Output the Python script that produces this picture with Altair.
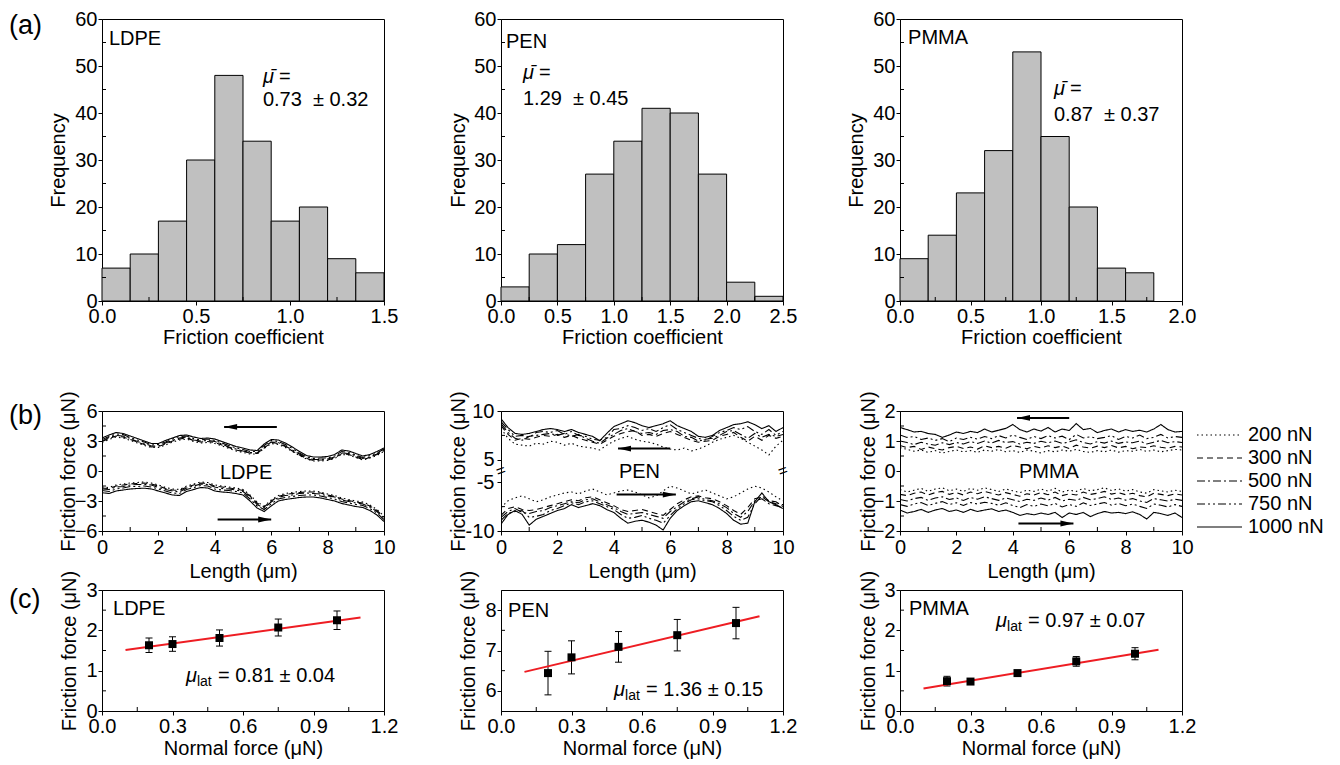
import altair as alt
import pandas as pd

FONT = "Liberation Sans"
FS = 20
W = 282
HA, HB, HC = 282, 120, 121
LOADS = ["200 nN", "300 nN", "500 nN", "750 nN", "1000 nN"]
DASHES = [[1.5, 3], [6, 4], [8, 3, 2, 3], [8, 3, 2, 3, 2, 3], [1, 0]]

# ---------------- (a) histograms ----------------
ldpe_edges = [0.0, 0.15, 0.30, 0.45, 0.60, 0.75, 0.90, 1.05, 1.20, 1.35, 1.50]
ldpe_counts = [7, 10, 17, 30, 48, 34, 17, 20, 9, 6]
pen_edges = [0.0, 0.25, 0.50, 0.75, 1.00, 1.25, 1.50, 1.75, 2.00, 2.25, 2.50]
pen_counts = [3, 10, 12, 27, 34, 41, 40, 27, 4, 1]
pmma_edges = [0.0, 0.2, 0.4, 0.6, 0.8, 1.0, 1.2, 1.4, 1.6, 1.8]
pmma_counts = [9, 14, 23, 32, 53, 35, 20, 7, 6]

# ---------------- (b) friction loops ----------------
XB = [0, 0.25, 0.5, 0.75, 1.0, 1.25, 1.5, 1.75, 2.0, 2.25, 2.5, 2.75, 3.0, 3.25,
      3.5, 3.75, 4.0, 4.25, 4.5, 4.75, 5.0, 5.25, 5.5, 5.75, 6.0, 6.25, 6.5, 6.75,
      7.0, 7.25, 7.5, 7.75, 8.0, 8.25, 8.5, 8.75, 9.0, 9.25, 9.5, 9.75, 10.0]

ldpe_up = {
    "1000 nN": [3.30, 3.60, 3.85, 3.75, 3.50, 3.25, 3.00, 2.75, 2.75, 3.05, 3.30, 3.55, 3.60, 3.40, 3.25, 3.30, 3.20, 2.95, 2.70, 2.45, 2.30, 2.10, 2.05, 2.70, 3.15, 3.10, 2.80, 2.40, 1.95, 1.55, 1.40, 1.40, 1.45, 1.65, 2.10, 2.00, 1.75, 1.50, 1.65, 1.95, 2.30],
    "750 nN": [3.15, 3.45, 3.70, 3.65, 3.35, 3.10, 2.90, 2.60, 2.65, 2.90, 3.20, 3.45, 3.50, 3.25, 3.10, 3.20, 3.05, 2.80, 2.55, 2.30, 2.15, 1.95, 1.95, 2.55, 3.05, 2.95, 2.65, 2.25, 1.80, 1.40, 1.25, 1.30, 1.30, 1.50, 1.95, 1.85, 1.60, 1.35, 1.55, 1.80, 2.20],
    "500 nN": [3.00, 3.35, 3.55, 3.50, 3.25, 2.95, 2.75, 2.50, 2.50, 2.80, 3.05, 3.30, 3.40, 3.10, 3.00, 3.05, 2.95, 2.70, 2.40, 2.20, 2.00, 1.85, 1.80, 2.40, 2.90, 2.85, 2.50, 2.10, 1.70, 1.30, 1.15, 1.15, 1.20, 1.40, 1.80, 1.75, 1.50, 1.25, 1.40, 1.70, 2.05],
    "300 nN": [2.95, 3.25, 3.50, 3.40, 3.15, 2.90, 2.65, 2.40, 2.45, 2.70, 3.00, 3.20, 3.30, 3.05, 2.90, 2.95, 2.85, 2.60, 2.35, 2.10, 1.95, 1.80, 1.75, 2.30, 2.85, 2.75, 2.45, 2.00, 1.60, 1.25, 1.05, 1.10, 1.10, 1.30, 1.75, 1.65, 1.40, 1.15, 1.35, 1.65, 2.00],
    "200 nN": [2.85, 3.15, 3.40, 3.30, 3.05, 2.80, 2.55, 2.35, 2.35, 2.60, 2.90, 3.10, 3.20, 2.95, 2.80, 2.85, 2.75, 2.50, 2.25, 2.00, 1.85, 1.70, 1.70, 2.25, 2.75, 2.65, 2.35, 1.95, 1.55, 1.20, 1.00, 1.00, 1.05, 1.25, 1.65, 1.60, 1.35, 1.10, 1.30, 1.55, 1.95],
}
ldpe_dn = {
    "1000 nN": [-2.17, -2.25, -2.00, -1.90, -1.80, -1.75, -1.72, -1.80, -2.00, -2.20, -2.40, -2.45, -2.05, -1.85, -1.65, -1.70, -2.00, -2.10, -2.15, -2.25, -2.40, -3.00, -3.70, -4.05, -3.50, -3.00, -2.85, -2.75, -2.65, -2.60, -2.60, -2.70, -2.85, -3.00, -3.25, -3.40, -3.55, -3.65, -3.95, -4.40, -5.05],
    "750 nN": [-1.95, -2.05, -1.80, -1.70, -1.55, -1.55, -1.50, -1.60, -1.80, -2.00, -2.20, -2.25, -1.85, -1.65, -1.45, -1.50, -1.80, -1.90, -1.95, -2.05, -2.20, -2.80, -3.50, -3.85, -3.30, -2.80, -2.65, -2.55, -2.45, -2.40, -2.40, -2.50, -2.65, -2.80, -3.05, -3.20, -3.35, -3.45, -3.75, -4.20, -4.85],
    "500 nN": [-1.80, -1.85, -1.60, -1.55, -1.40, -1.35, -1.35, -1.40, -1.65, -1.85, -2.00, -2.10, -1.70, -1.50, -1.30, -1.35, -1.60, -1.75, -1.80, -1.90, -2.05, -2.60, -3.35, -3.70, -3.10, -2.65, -2.45, -2.40, -2.25, -2.20, -2.25, -2.30, -2.50, -2.60, -2.90, -3.05, -3.20, -3.30, -3.60, -4.05, -4.70],
    "300 nN": [-1.70, -1.75, -1.50, -1.40, -1.30, -1.25, -1.20, -1.30, -1.50, -1.75, -1.90, -1.95, -1.60, -1.40, -1.20, -1.25, -1.50, -1.60, -1.70, -1.80, -1.95, -2.50, -3.20, -3.60, -3.00, -2.55, -2.35, -2.25, -2.15, -2.10, -2.10, -2.20, -2.40, -2.55, -2.80, -2.95, -3.10, -3.20, -3.50, -3.95, -4.60],
    "200 nN": [-1.60, -1.65, -1.40, -1.30, -1.20, -1.15, -1.10, -1.20, -1.40, -1.65, -1.80, -1.85, -1.50, -1.30, -1.10, -1.15, -1.40, -1.50, -1.60, -1.70, -1.85, -2.40, -3.10, -3.50, -2.90, -2.45, -2.25, -2.15, -2.05, -2.00, -2.00, -2.10, -2.30, -2.45, -2.70, -2.85, -3.00, -3.10, -3.40, -3.85, -4.50],
}
pen_up = {
    "1000 nN": [9.20, 8.30, 7.70, 7.60, 7.70, 7.90, 8.10, 8.20, 8.10, 7.90, 8.10, 7.80, 7.60, 7.40, 6.95, 7.70, 8.40, 8.70, 9.00, 8.80, 8.50, 8.30, 8.50, 8.70, 9.00, 8.50, 8.20, 7.90, 7.40, 7.30, 7.50, 8.00, 8.30, 8.60, 8.70, 8.90, 8.60, 8.20, 8.50, 7.90, 8.30],
    "750 nN": [8.90, 8.10, 7.40, 7.50, 7.30, 7.80, 7.90, 7.80, 8.00, 7.60, 7.90, 7.50, 7.40, 7.10, 7.00, 7.30, 8.10, 8.20, 8.50, 8.30, 8.00, 8.20, 7.90, 8.30, 8.60, 8.10, 7.80, 7.50, 7.20, 7.00, 7.40, 7.80, 8.00, 8.30, 8.10, 8.40, 7.90, 7.60, 8.10, 7.50, 7.90],
    "500 nN": [8.70, 7.80, 7.20, 7.00, 7.40, 7.50, 7.60, 7.70, 7.50, 7.70, 7.40, 7.60, 7.20, 6.90, 6.70, 7.20, 7.60, 8.00, 8.20, 7.90, 7.70, 7.80, 7.60, 8.00, 8.10, 7.90, 7.40, 7.30, 6.90, 7.10, 7.20, 7.50, 7.90, 8.00, 7.60, 7.20, 7.70, 7.30, 7.60, 7.40, 7.60],
    "300 nN": [8.50, 7.60, 7.00, 7.20, 7.10, 7.30, 7.50, 7.40, 7.60, 7.30, 7.50, 7.20, 7.00, 6.80, 6.60, 7.00, 7.40, 7.70, 7.90, 8.00, 7.50, 7.60, 7.40, 7.70, 7.90, 7.60, 7.30, 7.00, 6.80, 6.90, 7.00, 7.40, 7.60, 7.80, 7.30, 6.90, 7.40, 7.00, 7.50, 7.20, 7.40],
    "200 nN": [8.20, 7.20, 6.60, 6.50, 6.40, 6.70, 6.60, 6.90, 6.80, 6.50, 6.70, 6.40, 6.30, 6.20, 6.00, 6.50, 6.90, 7.20, 7.40, 7.10, 6.90, 6.80, 6.60, 6.30, 6.10, 6.00, 6.20, 5.90, 6.10, 6.40, 6.80, 7.10, 7.30, 7.50, 7.20, 6.80, 6.40, 6.00, 5.50, 6.40, 7.00],
}
pen_dn = {
    "1000 nN": [-9.30, -8.30, -7.90, -8.30, -9.40, -8.80, -8.50, -8.20, -7.90, -7.70, -7.30, -7.60, -7.40, -7.20, -7.40, -7.80, -8.10, -8.70, -9.20, -9.00, -8.90, -9.10, -9.40, -9.90, -8.70, -7.90, -7.40, -7.00, -6.90, -7.10, -7.30, -7.70, -8.20, -8.90, -9.30, -9.20, -7.00, -6.10, -7.00, -7.30, -7.70],
    "750 nN": [-8.90, -8.20, -8.00, -7.90, -8.60, -8.50, -8.30, -7.90, -7.70, -7.40, -7.10, -7.30, -7.00, -6.90, -7.20, -7.50, -7.80, -8.30, -8.70, -8.60, -8.40, -8.70, -8.90, -9.20, -8.40, -7.70, -7.20, -6.80, -6.70, -6.90, -7.00, -7.40, -7.90, -8.50, -8.90, -8.60, -7.20, -6.40, -6.90, -7.00, -7.50],
    "500 nN": [-8.60, -8.00, -7.70, -8.10, -8.20, -8.00, -7.90, -7.60, -7.40, -7.20, -7.00, -7.10, -6.80, -6.70, -7.00, -7.30, -7.60, -8.00, -8.30, -8.20, -8.10, -8.30, -8.50, -8.70, -8.00, -7.50, -7.00, -6.70, -6.50, -6.80, -6.90, -7.20, -7.60, -8.20, -8.60, -8.00, -6.90, -6.70, -7.20, -7.40, -7.60],
    "300 nN": [-8.40, -7.70, -7.50, -7.80, -7.90, -7.80, -7.60, -7.40, -7.20, -7.00, -6.80, -6.90, -6.60, -6.50, -6.80, -7.10, -7.40, -7.80, -8.00, -7.90, -7.80, -8.00, -8.20, -8.40, -7.80, -7.20, -6.80, -6.50, -6.40, -6.60, -6.70, -7.00, -7.40, -7.90, -8.30, -7.60, -6.70, -6.50, -7.00, -7.20, -7.30],
    "200 nN": [-7.60, -6.90, -6.60, -6.40, -6.70, -7.00, -6.80, -6.50, -6.30, -6.10, -6.00, -6.20, -5.90, -5.70, -6.00, -6.30, -6.10, -5.90, -5.80, -6.00, -6.30, -6.60, -6.40, -5.90, -5.40, -5.60, -5.90, -6.20, -6.00, -5.80, -6.10, -6.40, -6.70, -6.50, -6.10, -5.70, -5.40, -5.60, -6.00, -6.50, -6.90],
}
pmma_up = {
    "1000 nN": [1.45, 1.38, 1.30, 1.32, 1.25, 1.22, 1.12, 1.20, 1.30, 1.25, 1.32, 1.28, 1.40, 1.30, 1.36, 1.42, 1.55, 1.38, 1.30, 1.40, 1.33, 1.45, 1.30, 1.40, 1.35, 1.58, 1.38, 1.42, 1.28, 1.35, 1.40, 1.30, 1.38, 1.32, 1.36, 1.30, 1.40, 1.55, 1.38, 1.30, 1.32],
    "750 nN": [1.20, 1.12, 1.15, 1.05, 1.10, 1.02, 1.08, 0.98, 1.10, 1.05, 1.12, 1.06, 1.15, 1.08, 1.18, 1.10, 1.20, 1.12, 1.05, 1.15, 1.08, 1.18, 1.10, 1.16, 1.05, 1.22, 1.10, 1.14, 1.08, 1.12, 1.18, 1.05, 1.15, 1.10, 1.20, 1.08, 1.12, 1.22, 1.10, 1.15, 1.12],
    "500 nN": [1.00, 0.95, 0.88, 0.96, 0.90, 0.86, 0.94, 0.88, 0.95, 0.90, 0.98, 0.92, 1.00, 0.93, 1.02, 0.95, 0.98, 0.90, 0.96, 0.92, 0.99, 0.94, 1.00, 0.92, 0.97, 1.04, 0.95, 0.90, 0.98, 0.93, 1.00, 0.92, 0.97, 0.94, 1.00, 0.90, 0.96, 1.02, 0.94, 0.98, 0.95],
    "300 nN": [0.85, 0.78, 0.82, 0.72, 0.80, 0.74, 0.70, 0.78, 0.82, 0.75, 0.80, 0.73, 0.84, 0.78, 0.82, 0.76, 0.85, 0.80, 0.74, 0.82, 0.77, 0.84, 0.78, 0.83, 0.75, 0.86, 0.80, 0.76, 0.83, 0.78, 0.85, 0.77, 0.82, 0.74, 0.80, 0.78, 0.84, 0.79, 0.76, 0.82, 0.80],
    "200 nN": [0.78, 0.72, 0.66, 0.70, 0.62, 0.68, 0.60, 0.65, 0.70, 0.64, 0.68, 0.62, 0.70, 0.66, 0.72, 0.64, 0.68, 0.62, 0.70, 0.66, 0.60, 0.68, 0.64, 0.70, 0.66, 0.72, 0.65, 0.62, 0.68, 0.64, 0.70, 0.63, 0.68, 0.66, 0.72, 0.65, 0.70, 0.64, 0.68, 0.72, 0.70],
}
pmma_dn = {
    "1000 nN": [-1.30, -1.40, -1.35, -1.28, -1.38, -1.30, -1.25, -1.35, -1.30, -1.38, -1.28, -1.35, -1.30, -1.26, -1.35, -1.30, -1.38, -1.48, -1.42, -1.46, -1.40, -1.45, -1.38, -1.55, -1.40, -1.45, -1.38, -1.52, -1.42, -1.35, -1.40, -1.38, -1.42, -1.36, -1.45, -1.60, -1.38, -1.42, -1.48, -1.40, -1.55],
    "750 nN": [-1.12, -1.18, -1.10, -1.05, -1.15, -1.08, -1.02, -1.12, -1.06, -1.15, -1.05, -1.10, -1.04, -1.08, -1.14, -1.06, -1.15, -1.22, -1.12, -1.18, -1.10, -1.16, -1.08, -1.20, -1.12, -1.18, -1.06, -1.15, -1.10, -1.05, -1.14, -1.08, -1.16, -1.10, -1.18, -1.25, -1.10, -1.14, -1.20, -1.12, -1.18],
    "500 nN": [-0.95, -1.00, -0.92, -0.88, -0.98, -0.90, -0.86, -0.95, -0.90, -0.98, -0.88, -0.94, -0.86, -0.92, -0.98, -0.90, -0.96, -1.02, -0.94, -0.98, -0.90, -0.97, -0.88, -1.00, -0.94, -0.98, -0.88, -0.96, -0.92, -0.86, -0.95, -0.90, -0.97, -0.92, -1.00, -1.05, -0.92, -0.96, -1.00, -0.94, -0.98],
    "300 nN": [-0.78, -0.82, -0.74, -0.70, -0.80, -0.72, -0.68, -0.78, -0.72, -0.80, -0.70, -0.76, -0.68, -0.74, -0.80, -0.72, -0.78, -0.84, -0.76, -0.80, -0.72, -0.79, -0.70, -0.82, -0.76, -0.80, -0.70, -0.78, -0.74, -0.68, -0.77, -0.72, -0.79, -0.74, -0.82, -0.86, -0.74, -0.78, -0.82, -0.76, -0.80],
    "200 nN": [-0.62, -0.70, -0.64, -0.58, -0.68, -0.60, -0.56, -0.66, -0.60, -0.68, -0.58, -0.64, -0.56, -0.62, -0.68, -0.60, -0.66, -0.72, -0.64, -0.68, -0.60, -0.67, -0.58, -0.70, -0.64, -0.68, -0.58, -0.66, -0.62, -0.56, -0.65, -0.60, -0.67, -0.62, -0.70, -0.74, -0.62, -0.66, -0.70, -0.64, -0.68],
}

# ---------------- (c) friction vs normal force ----------------
NF = [0.2, 0.3, 0.5, 0.75, 1.0]
ldpe_ff = [1.63, 1.66, 1.81, 2.07, 2.25]
ldpe_err = [0.18, 0.18, 0.20, 0.21, 0.23]
pen_ff = [6.44, 6.83, 7.09, 7.38, 7.68]
pen_err = [0.54, 0.41, 0.38, 0.39, 0.39]
pmma_ff = [0.74, 0.73, 0.94, 1.23, 1.42]
pmma_err = [0.12, 0.07, 0.05, 0.12, 0.15]
FIT_X = [0.1, 1.1]
ldpe_fit = [1.51, 2.32]
pen_fit = [6.47, 7.85]
pmma_fit = [0.56, 1.52]

for d in (ldpe_up, ldpe_dn, pen_up, pen_dn, pmma_up, pmma_dn):
    for k, v in d.items():
        assert len(v) == len(XB), k


def sc(dom):
    return alt.Scale(domain=dom, nice=False, zero=False)


def xaxis(title, values, fmt, lp, tp):
    return alt.Axis(title=title, values=values, format=fmt, tickSize=4, labelPadding=lp,
                    minExtent=20, maxExtent=20, titlePadding=tp, labelFlush=False, grid=False)


def yaxis(title, values, d, fmt="d", lp=1, labelExpr=None):
    kw = dict(title=title, values=values, format=fmt, tickSize=4, labelPadding=lp,
              minExtent=10, maxExtent=10, titlePadding=d - 10, grid=False)
    if labelExpr:
        kw["labelExpr"] = labelExpr
    return alt.Axis(**kw)


class P:
    """Scales and axes of one panel, shared by all of its layers."""

    def __init__(self, xdom, ydom, xa, ya):
        self.xdom, self.ydom = xdom, ydom
        self.xs, self.ys = sc(xdom), sc(ydom)
        self.xa, self.ya = xa, ya

    def X(self, f):
        return alt.X(f, scale=self.xs, axis=self.xa)

    def Y(self, f):
        return alt.Y(f, scale=self.ys, axis=self.ya)


def minor_ticks(p, xminor, yminor):
    out = []
    out.append(alt.Chart(pd.DataFrame({"v": xminor})).mark_rule(color="black", strokeWidth=1, y2Offset=-4).encode(
        x=p.X("v:Q"),
        y=alt.YDatum(p.ydom[0], type="quantitative", scale=p.ys, axis=p.ya),
        y2=alt.Y2Datum(p.ydom[0])))
    out.append(alt.Chart(pd.DataFrame({"v": yminor})).mark_rule(color="black", strokeWidth=1, x2Offset=4).encode(
        y=p.Y("v:Q"),
        x=alt.XDatum(p.xdom[0], type="quantitative", scale=p.xs, axis=p.xa),
        x2=alt.X2Datum(p.xdom[0])))
    return out


def text_layer(p, rows, **mk):
    df = pd.DataFrame(rows, columns=["x", "y", "t"])
    base = dict(align="left", baseline="middle", fontSize=FS, color="black")
    base.update(mk)
    return alt.Chart(df).mark_text(**base).encode(x=p.X("x:Q"), y=p.Y("y:Q"), text="t:N")


def panel_label(t, y):
    return alt.Chart(pd.DataFrame({"t": [t]})).mark_text(
        fontSize=27, align="left", baseline="middle", color="black").encode(
        x=alt.value(-93), y=alt.value(y), text="t:N")


MU_BAR = "\u03bc\u0304"


def panel_a(edges, counts, xdom, xvals, xminor, d, name_xy, mu_xy, val_xy, name, val, lab=None):
    p = P(xdom, [0, 60], xaxis("Friction coefficient", xvals, ".1f", 1, 6),
          yaxis("Frequency", [0, 10, 20, 30, 40, 50, 60], d))
    df = pd.DataFrame({"x0": edges[:-1], "x1": edges[1:], "n": counts})
    bars = alt.Chart(df).mark_bar(fill="#c0c0c0", stroke="black", strokeWidth=1).encode(
        x=p.X("x0:Q"), x2="x1:Q", y=p.Y("n:Q"), y2=alt.Y2Datum(0))
    layers = [bars] + minor_ticks(p, xminor, [5, 15, 25, 35, 45, 55])
    layers.append(text_layer(p, [(name_xy[0], name_xy[1], name)]))
    layers.append(text_layer(p, [(mu_xy[0], mu_xy[1], MU_BAR)], fontStyle="italic"))
    layers.append(text_layer(p, [(mu_xy[0], mu_xy[1], "=")], dx=16))
    layers.append(text_layer(p, [(val_xy[0], val_xy[1], val)]))
    if lab:
        layers.append(panel_label(lab, 7))
    return alt.layer(*layers).properties(width=W, height=HA)


def loop_df(up, dn, tf=None):
    rows = []
    for load in LOADS:
        for dname, src in (("retrace", up), ("trace", dn)):
            for x, v in zip(XB, src[load]):
                rows.append({"x": x, "f": tf(v) if tf else v, "load": load, "dir": dname})
    return pd.DataFrame(rows)


LEFT_HEAD = "M-1,0L1,-0.45L1,0.45Z"
RIGHT_HEAD = "M1,0L-1,-0.45L-1,0.45Z"


def panel_b(df, ydom, ya, yminor, name_xy, name, arrows, legend=None, lab=None, extra=None):
    p = P([0, 10], ydom, xaxis("Length (\u03bcm)", [0, 2, 4, 6, 8, 10], "d", 2, 10.5), ya)
    lines = alt.Chart(df).mark_line(color="black", strokeWidth=1.1, clip=True).encode(
        x=p.X("x:Q"), y=p.Y("f:Q"),
        strokeDash=alt.StrokeDash("load:N", scale=alt.Scale(domain=LOADS, range=DASHES), legend=legend),
        detail="dir:N")
    layers = [lines] + minor_ticks(p, [1, 3, 5, 7, 9], yminor)
    adf = pd.DataFrame(arrows, columns=["tail", "tip", "y", "dir"])
    layers.append(alt.Chart(adf).mark_rule(color="black", strokeWidth=2).encode(
        x=p.X("tail:Q"), x2="tip:Q", y=p.Y("y:Q")))
    layers.append(alt.Chart(adf[adf.dir == "L"]).mark_point(
        shape=LEFT_HEAD, size=169, filled=True, color="black", opacity=1, xOffset=6.5).encode(
        x=p.X("tip:Q"), y=p.Y("y:Q")))
    layers.append(alt.Chart(adf[adf.dir == "R"]).mark_point(
        shape=RIGHT_HEAD, size=169, filled=True, color="black", opacity=1, xOffset=-6.5).encode(
        x=p.X("tip:Q"), y=p.Y("y:Q")))
    layers.append(text_layer(p, [(name_xy[0], name_xy[1], name)], align="center"))
    if extra is not None:
        layers.append(extra(p))
    if lab:
        layers.append(panel_label(lab, 5))
    return alt.layer(*layers).properties(width=W, height=HB)


def panel_c(ff, err, fit, ydom, yvals, yminor, d, name_xy, name, mu_xy, val, lab=None):
    p = P([0, 1.2], ydom, xaxis("Normal force (\u03bcN)", [0, 0.3, 0.6, 0.9, 1.2], ".1f", 1, 7.5),
          yaxis("Friction force (\u03bcN)", yvals, d))
    df = pd.DataFrame({"x": NF, "y": ff, "lo": [a - b for a, b in zip(ff, err)],
                       "hi": [a + b for a, b in zip(ff, err)]})
    fdf = pd.DataFrame({"x": FIT_X, "y": fit})
    bars = alt.Chart(df).mark_rule(color="black", strokeWidth=1).encode(
        x=p.X("x:Q"), y=p.Y("lo:Q"), y2="hi:Q")
    caps_lo = alt.Chart(df).mark_tick(orient="horizontal", size=7, thickness=1, color="black", opacity=1).encode(
        x=p.X("x:Q"), y=p.Y("lo:Q"))
    caps_hi = alt.Chart(df).mark_tick(orient="horizontal", size=7, thickness=1, color="black", opacity=1).encode(
        x=p.X("x:Q"), y=p.Y("hi:Q"))
    pts = alt.Chart(df).mark_square(size=64, color="black", opacity=1).encode(
        x=p.X("x:Q"), y=p.Y("y:Q"))
    line = alt.Chart(fdf).mark_line(color="#ee1d23", strokeWidth=2).encode(
        x=p.X("x:Q"), y=p.Y("y:Q"))
    layers = [bars, caps_lo, caps_hi, line, pts]
    layers += minor_ticks(p, [0.15, 0.45, 0.75, 1.05], yminor)
    layers.append(text_layer(p, [(name_xy[0], name_xy[1], name)]))
    layers.append(text_layer(p, [(mu_xy[0], mu_xy[1], "\u03bc")], fontStyle="italic"))
    layers.append(text_layer(p, [(mu_xy[0], mu_xy[1], "lat")], fontSize=14, dx=11, dy=6))
    layers.append(text_layer(p, [(mu_xy[0], mu_xy[1], val)], dx=32))
    if lab:
        layers.append(panel_label(lab, 9.5))
    return alt.layer(*layers).properties(width=W, height=HC)


# ---------- row (a)
a1 = panel_a(ldpe_edges, ldpe_counts, [0, 1.5], [0, 0.5, 1.0, 1.5], [0.25, 0.75, 1.25], 34,
             (0.037, 55.85), (0.856, 47.7), (0.856, 42.7), "LDPE", "0.73\u00a0\u00a0\u00b1 0.32", lab="(a)")
a2 = panel_a(pen_edges, pen_counts, [0, 2.5], [0, 0.5, 1.0, 1.5, 2.0, 2.5], [0.25, 0.75, 1.25, 1.75, 2.25], 33,
             (0.044, 55.2), (0.195, 48.5), (0.195, 43.0), "PEN", "1.29\u00a0\u00a0\u00b1 0.45")
a3 = panel_a(pmma_edges, pmma_counts, [0, 2.0], [0, 0.5, 1.0, 1.5, 2.0], [0.25, 0.75, 1.25, 1.75], 34,
             (0.057, 55.96), (1.092, 45.1), (1.092, 39.5), "PMMA", "0.87\u00a0\u00a0\u00b1 0.37")


# ---------- row (b)
def pen_tf(v):
    return v - 3.85 if v > 0 else v + 3.85


def pen_breaks(p):
    return alt.Chart(pd.DataFrame({"x": [0, 10], "y": [0, 0]})).mark_text(
        text="=", fontSize=16, angle=340, color="black", baseline="middle", align="center").encode(
        x=p.X("x:Q"), y=p.Y("y:Q"))


FF = "Friction force (\u03bcN)"
b1 = panel_b(loop_df(ldpe_up, ldpe_dn), [-6, 6],
             yaxis(FF, [-6, -3, 0, 3, 6], 24),
             [-4.5, -1.5, 1.5, 4.5], (5.11, -0.15), "LDPE",
             [(6.2, 4.33, 4.41, "L"), (4.1, 6.0, -4.85, "R")], lab="(b)")
b2 = panel_b(loop_df(pen_up, pen_dn, pen_tf), [-6.15, 6.15],
             yaxis(FF, [-6.15, -1.15, 1.15, 6.15], 33, lp=3,
                   labelExpr="datum.value > 5 ? '10' : datum.value > 0 ? '5' : datum.value > -5 ? '-5' : '-10'"),
             [3.65, -3.65], (4.91, -0.11), "PEN",
             [(6.0, 4.15, pen_tf(6.15), "L"), (4.1, 6.2, pen_tf(-6.27), "R")], extra=pen_breaks)
b3 = panel_b(loop_df(pmma_up, pmma_dn), [-2, 2],
             yaxis(FF, [-2, -1, 0, 1, 2], 22),
             [-1.5, -0.5, 0.5, 1.5], (5.28, -0.02), "PMMA",
             [(6.0, 4.15, 1.77, "L"), (4.2, 6.15, -1.75, "R")],
             legend=alt.Legend(orient="none", legendX=296, legendY=14, title=None, labelFontSize=FS,
                               labelFont=FONT, labelColor="black", symbolType="stroke", symbolSize=2025,
                               symbolStrokeWidth=1.2, symbolStrokeColor="black", clipHeight=20,
                               rowPadding=3, labelOffset=5, padding=0))

# ---------- row (c)
c1 = panel_c(ldpe_ff, ldpe_err, ldpe_fit, [0, 3], [0, 1, 2, 3], [0.5, 1.5, 2.5], 23,
             (0.047, 2.54), "LDPE", (0.357, 0.88), "= 0.81 \u00b1 0.04", lab="(c)")
c2 = panel_c(pen_ff, pen_err, pen_fit, [5.5, 8.5], [6, 7, 8], [6.5, 7.5], 23,
             (0.03, 7.99), "PEN", (0.481, 6.01), "= 1.36 \u00b1 0.15")
c3 = panel_c(pmma_ff, pmma_err, pmma_fit, [0, 3], [0, 1, 2, 3], [0.5, 1.5, 2.5], 22,
             (0.038, 2.52), "PMMA", (0.409, 2.24), "= 0.97 \u00b1 0.07")

row_a = alt.hconcat(a1, a2, a3, spacing=117, bounds="flush")
grid_bc = alt.concat(b1, b2, b3, c1, c2, c3, columns=3, spacing={"row": 59, "column": 117},
                     bounds="flush").resolve_scale(strokeDash="independent").resolve_legend(strokeDash="independent")

chart = alt.vconcat(row_a, grid_bc, spacing=42, padding=0).configure(font=FONT).configure_view(
    stroke="black", strokeWidth=1).configure_axis(
    labelFont=FONT, titleFont=FONT, labelFontSize=FS, titleFontSize=FS, titleFontWeight="normal",
    labelColor="black", titleColor="black", domainColor="black", tickColor="black",
    domainWidth=1, tickWidth=1, grid=False)

chart.save("out.html", embed_options={"renderer": "svg", "actions": False})
